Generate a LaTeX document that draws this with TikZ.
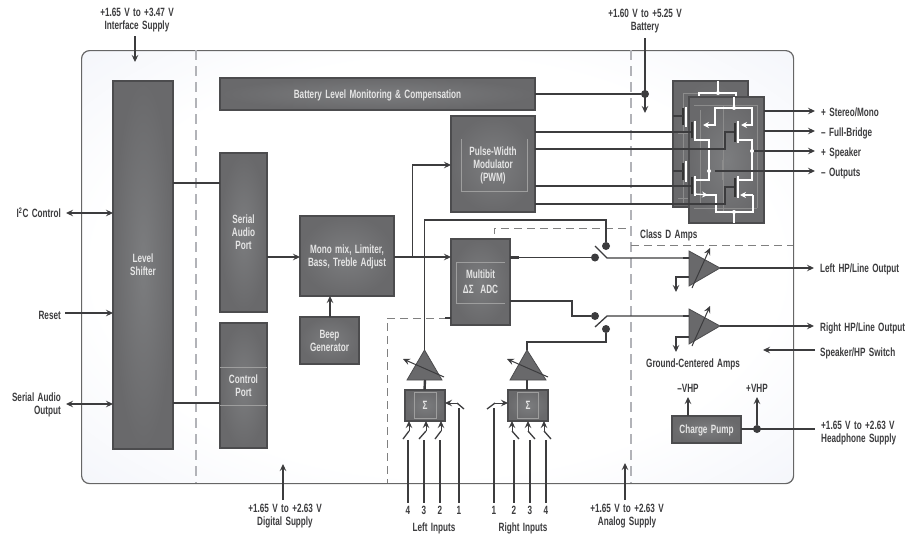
\documentclass[tikz,border=0pt]{standalone}
\usepackage{fontspec}
\setmainfont[FakeStretch=0.68,WordSpace=1.5]{Liberation Sans}
\usepackage{xcolor}
\usepackage{tikz}
\usetikzlibrary{arrows.meta,positioning,shadows}
\definecolor{inkdark}{HTML}{3C3C3E}
\definecolor{boxedge}{HTML}{4C4C4E}
\definecolor{boxmid}{HTML}{7C7D7F}
\definecolor{boxout}{HTML}{69696B}
\definecolor{panelmid}{HTML}{F2F4FA}
\definecolor{panelout}{HTML}{DEE2F0}
\definecolor{zonegray}{HTML}{B2B3B8}
\pgfdeclareradialshading{panelglow}{\pgfpoint{0bp}{0bp}}{color(0bp)=(white); color(24bp)=(white); color(38bp)=(panelmid); color(50bp)=(panelout)}
\begin{document}
\begin{tikzpicture}[
    x=1pt, y=-1pt,
    font=\fontsize{12}{13}\selectfont\bfseries,
    blockbox/.style={shade, inner color=boxmid, outer color=boxout, draw=boxedge, line width=1.2pt, align=center,
        text=white!90!black, text depth=0pt, inner sep=0pt, outer sep=0pt, anchor=north west,
        drop shadow={shadow xshift=1pt, shadow yshift=-1pt, opacity=.18}},
    bridgebox/.style={blockbox, fill=boxout, minimum width=75pt, minimum height=126pt},
    textlabel/.style={text=inkdark, align=center, text depth=0pt, inner sep=0pt},
    arrow/.style={-{Stealth[length=7pt, width=6.5pt, inset=2.5pt]}, line width=1.3pt, draw=inkdark},
    bothways/.style={arrow, {Stealth[length=7pt, width=6.5pt, inset=2.5pt]}-{Stealth[length=7pt, width=6.5pt, inset=2.5pt]}},
    wire/.style={line width=1.3pt, draw=inkdark},
    stub/.style={line width=2.4pt, draw=inkdark},
    joindot/.style={circle, fill=inkdark, minimum size=8pt, inner sep=0pt},
    whitedot/.style={circle, fill=white, minimum size=4pt, inner sep=0pt},
    zoneline/.style={draw=zonegray, line width=1.2pt, dash pattern=on 10pt off 6pt},
    classline/.style={draw=gray, line width=.7pt, dash pattern=on 8pt off 5pt},
    innerline/.style={draw=white!62!black, line width=.4pt},
    faintline/.style={draw=white!55!black, line width=.4pt},
    whitewire/.style={draw=white, line width=1.3pt},
    whitearrow/.style={whitewire, -{Stealth[length=6pt, width=6pt, inset=2pt]}},
    gatebar/.style={draw=black!80, line width=2pt},
    ampshape/.style={fill=boxout, draw=boxedge, line width=.8pt}
]
\useasboundingbox (0,0) rectangle (916,533);

% --- device outline and supply zones ---
\node[draw=black!60, line width=1.2pt, rounded corners=8pt, shade, shading=panelglow, minimum width=712pt, minimum height=433pt, anchor=north west, inner sep=0pt] (panel) at (81,50) {};
\draw[zoneline] (196,50) -- (196,483);
\draw[zoneline] (631,50) -- (631,483);
\draw[classline] (494,234) -- (494,228) -- (628,228);
\draw[classline] (631,245) -- (793,245);
\draw[classline] (494,313) -- (494,318) -- (387,318) -- (387,483);

% --- digital blocks ---
\node[blockbox, minimum width=60pt, minimum height=368pt] (level) at (113,81) {Level\\Shifter};
\node[blockbox, minimum width=315pt, minimum height=32pt] (battery) at (220,78) {Battery Level Monitoring \& Compensation};
\node[blockbox, minimum width=47pt, minimum height=159pt] (serial) at (220,153) {Serial\\Audio\\Port};
\node[blockbox, minimum width=47pt, minimum height=125pt, below=11pt of serial.south west, anchor=north west] (control) {Control\\Port};
\node[blockbox, minimum width=94pt, minimum height=80pt] (mono) at (300,216) {Mono mix, Limiter,\\Bass, Treble Adjust};
\node[blockbox, minimum width=59pt, minimum height=47pt, below=21pt of mono.south west, anchor=north west] (beep) {Beep\\Generator};
\node[blockbox, minimum width=84pt, minimum height=96pt] (pwm) at (451,116) {Pulse-Width\\Modulator\\(PWM)};
\node[blockbox, minimum width=59pt, minimum height=86pt] (adc) at (451,239) {Multibit\\[2pt]ΔΣ\ \ ADC};
\node[blockbox, minimum width=40pt, minimum height=31pt] (sumleft) at (405,390) {Σ};
\node[blockbox, minimum width=40pt, minimum height=31pt] (sumright) at (508,390) {Σ};
\node[blockbox, minimum width=69pt, minimum height=27pt] (pump) at (672,416) {Charge Pump};

% faint rules inside the blocks
\draw[innerline] (control.west |- 0,367) -- (control.east |- 0,367);
\draw[innerline] (control.west |- 0,405) -- (control.east |- 0,405);
\draw[innerline] (461,139) -- (461,191) -- (527,191) -- (527,139);
\draw[innerline] (505,262) -- (456,262) -- (456,303) -- (505,303);
\draw[innerline] (414,392) rectangle (436,418);
\draw[innerline] (517,392) rectangle (538,418);

% --- H-bridge stacks ---
\node[bridgebox] (bridgeback) at (673,81) {};
\draw[faintline] (683,93) -- (683,205) (699,93) -- (699,107) (678,133) -- (689,133) (678,198) -- (689,198) (683,93) -- (736,93);
\draw[faintline] (699,155) circle (2.5pt);
\draw[whitewire] (bridgeback.north -| 718,81) -- (718,93);
\draw[whitewire] (699,97) -- (699,93) -- (736,93) -- (736,97);
\node[whitedot] (backdot) at (718,93) {};
\draw[whitewire] (686,107) -- (686,127) (686,161) -- (686,182);
\draw[gatebar] (683,108) -- (683,125) (683,163) -- (683,180);
\draw[wire] (bridgeback.west |- 0,116) -- (683,116);
\draw[wire] (bridgeback.west |- 0,171) -- (683,171);

\node[bridgebox] (bridgefront) at (689,97) {};
\draw[faintline] (723,105) -- (723,212) (722,160) -- (722,180) (700,110) -- (700,205) (694,208) -- (757,208) (694,105) -- (757,105) (757,105) -- (757,208);
\draw[whitewire] (bridgefront.north -| 734,97) -- (734,108);
\draw[whitewire] (734,223) -- (734,212);
\draw[whitearrow] (734,108) -- (715,108) -- (715,125) -- (703,125);
\draw[whitearrow] (734,108) -- (752,108) -- (752,125) -- (741,125);
\draw[whitewire] (695,121) -- (695,141) (695,176) -- (695,196) (738,121) -- (738,143) (738,176) -- (738,198);
\draw[whitewire] (695,140) -- (709,140) -- (709,180) -- (695,180);
\draw[whitewire] (738,140) -- (752,140) -- (752,180) -- (738,180);
\draw[whitearrow] (695,194) -- (708,195);
\draw[whitewire] (705,195) -- (716,195) -- (716,212) -- (753,212) -- (753,195);
\draw[whitearrow] (753,195) -- (740,195);
\node[whitedot] (topdot) at (734,108) {};
\node[whitedot] (bottomdot) at (734,212) {};
\node[whitedot] (leftdot) at (709,171) {};
\node[whitedot] (rightdot) at (752,151) {};

% --- PWM to bridge ---
\draw[wire] (pwm.east |- 0,132) -- (692,132);
\draw[wire] (pwm.east |- 0,149) -- (725,149) -- (725,132) -- (735,132);
\draw[wire] (pwm.east |- 0,186) -- (692,186);
\draw[wire] (pwm.east |- 0,204) -- (725,204) -- (725,187) -- (735,187);
\draw[gatebar] (692,122) -- (692,138) (692,177) -- (692,194) (735,123) -- (735,142) (735,178) -- (735,197);
\draw[stub] (pwm.east |- 0,132) -- ++(9,0);
\draw[stub] (pwm.east |- 0,186) -- ++(9,0);
\draw[stub] (pwm.east |- 0,204) -- ++(9,0);

% --- bridge outputs ---
\coordinate (ostereo) at (815,111);
\coordinate (obridge) at (815,131);
\coordinate (ospeaker) at (815,151);
\coordinate (ooutputs) at (815,171);
\draw[arrow] (bridgefront.east |- ostereo) -- (ostereo);
\draw[arrow] (bridgefront.east |- obridge) -- (obridge);
\draw[arrow] (rightdot) -- (ospeaker);
\draw[arrow] (715,171) -- (ooutputs);
\node[textlabel, anchor=west] (lstereo) at (821,112) {+ Stereo/Mono};
\node[textlabel, anchor=west] (lbridge) at (821,132) {– Full-Bridge};
\node[textlabel, anchor=west] (lspeaker) at (821,152) {+ Speaker};
\node[textlabel, anchor=west] (loutputs) at (821,172) {– Outputs};

% --- battery supply ---
\node[joindot] (batdot) at (645,94) {};
\node[textlabel] (lbattery) at (645,20) {+1.60 V to +5.25 V\\Battery};
\coordinate (batend) at (645,113);
\draw[arrow] (645,38) -- (batend);
\draw[wire] (battery.east |- batdot) -- (batdot);
\draw[stub] (battery.east |- batdot) -- ++(9,0);

% --- digital connections ---
\draw[wire] (level.east |- 0,183) -- (serial.west |- 0,183);
\draw[stub] (level.east |- 0,183) -- ++(9,0);
\draw[stub] (serial.west |- 0,183) -- ++(-6,0);
\draw[wire] (level.east |- 0,403) -- (control.west |- 0,403);
\draw[stub] (level.east |- 0,403) -- ++(9,0);
\draw[stub] (control.west |- 0,403) -- ++(-6,0);
\draw[arrow] (serial.east |- 0,257) -- (mono.west |- 0,257);
\draw[arrow, line width=1.8pt] (beep.north -| 330,0) -- (mono.south -| 330,0);
\draw[arrow] (mono.east |- 0,257) -- (adc.west |- 0,257);
\draw[arrow] (412.5,257) -- (412.5,165) -- (pwm.west |- 0,165);

% --- analog path ---
\node[joindot] (upperin) at (595,257.5) {};
\node[joindot] (uppermic) at (606,246) {};
\node[joindot] (lowerin) at (595,316) {};
\node[joindot] (lowermic) at (606,329) {};
\draw[wire] (adc.east |- 0,257.5) -- (upperin);
\draw[stub] (adc.east |- 0,257.5) -- ++(9,0);
\draw[wire] (adc.east |- 0,301) -- (572,301) -- (572,316) -- (lowerin);
\draw[stub] (adc.east |- 0,301) -- ++(9,0);
\draw[stub] (445,318) -- (adc.west |- 0,318);

% amplifier triangles
\coordinate (pgaleft) at (424.5,350);
\coordinate (pgaright) at (527,350);
\draw[ampshape] (pgaleft) -- (407,380) -- (442,380) -- cycle;
\draw[ampshape] (pgaright) -- (510,380) -- (546,380) -- cycle;
\draw[arrow, line width=1pt] (444,377) -- (403,359);
\draw[arrow, line width=1pt] (548,377) -- (507,359);
\draw[stub] (sumleft.north -| pgaleft) -- (425,380);
\draw[stub] (sumright.north -| pgaright) -- (527,380);
\draw[wire] (pgaleft) -- (424.5,220) -- (606,220) -- (uppermic);
\draw[wire] (pgaright) -- (527,342) -- (606,342) -- (lowermic);

% headphone amps
\coordinate (hpleft) at (720,268);
\coordinate (hpright) at (720,326);
\draw[ampshape] (hpleft) -- (689,251) -- (689,286) -- cycle;
\draw[ampshape] (hpright) -- (689,309) -- (689,344) -- cycle;
\draw[arrow, line width=1pt] (692,288) -- (710,248);
\draw[arrow, line width=1pt] (692,346) -- (710,306);
\draw[wire] (595,246) -- (607,258) -- (689,258);
\draw[wire] (595,327) -- (607,316) -- (689,316);
\draw[stub] (683,258) -- (689,258);
\draw[stub] (683,316) -- (689,316);
\draw[arrow] (689,277) -- (676,277) -- (676,292);
\draw[arrow] (689,337) -- (676,337) -- (676,352);
\draw[arrow] (hpleft) -- (814,268);
\draw[arrow] (hpright) -- (814,326);
\node[textlabel, anchor=west] (lleftout) at (820,268) {Left HP/Line Output};
\node[textlabel, anchor=west] (lrightout) at (820,327) {Right HP/Line Output};
\node[textlabel, anchor=west] (lswitch) at (820,352) {Speaker/HP Switch};
\draw[arrow] (lswitch.west) ++(-5,-2) -- (763,350);
\node[textlabel, anchor=west] (lclassd) at (640,234) {Class D Amps};
\node[textlabel, anchor=west] (lground) at (646,363) {Ground-Centered Amps};

% --- charge pump ---
\node[joindot] (pumpdot) at (757,429) {};
\node[textlabel] (lminus) at (688,388) {–VHP};
\node[textlabel] (lplus) at (757,388) {+VHP};
\draw[arrow] (pump.north -| lminus) -- (688,397);
\draw[arrow] (pumpdot) -- (757,397);
\draw[wire] (pump.east |- pumpdot) -- (815,429);
\node[textlabel, anchor=west, align=left] (lphones) at (821,432) {+1.65 V to +2.63 V\\Headphone Supply};

% --- left side pins ---
\node[textlabel] (lsupply) at (137,19) {+1.65 V to +3.47 V\\Interface Supply};
\draw[arrow] (135,36) -- (135,62);
\node[textlabel, anchor=east] (li2c) at (61,213) {I\textsuperscript{2}C Control};
\node[textlabel, anchor=east] (lreset) at (61,315) {Reset};
\node[textlabel, anchor=east, align=right] (lserout) at (61,404) {Serial Audio\\Output};
\draw[bothways] (li2c.east |- 0,213) ++(5,0) -- (level.west |- 0,213);
\draw[arrow] (lreset.east |- 0,313) ++(4,0) -- (level.west |- 0,313);
\draw[bothways] (lserout.east |- 0,404) ++(5,0) -- (level.west |- 0,404);

% --- bottom supplies ---
\node[textlabel] (ldigital) at (285,515) {+1.65 V to +2.63 V\\Digital Supply};
\node[textlabel] (lanalog) at (627,515) {+1.65 V to +2.63 V\\Analog Supply};
\draw[arrow] (283,500) -- (283,464);
\draw[arrow] (625,500) -- (625,463);

% --- input selectors ---
\foreach \pinx/\tipx/\pinlabel in {408/409/4, 424/426/3, 440/441/2} {
    \node[textlabel] (lpin\pinlabel) at (\pinx,510) {\pinlabel};
    \draw[wire] (lpin\pinlabel.north) ++(0,-3) -- (\pinx,440);
    \draw[wire] (\pinx-5,439) -- (\tipx,431);
    \draw[arrow, line width=1pt] (\tipx,431) -- (sumleft.south -| \tipx,0);
}
\foreach \pinx/\tipx/\pinlabel in {514/512/2, 530/528/3, 546/544/4} {
    \node[textlabel] (rpin\pinlabel) at (\pinx,510) {\pinlabel};
    \draw[wire] (rpin\pinlabel.north) ++(0,-3) -- (\pinx,440);
    \draw[wire] (\pinx+5,439) -- (\tipx,431);
    \draw[arrow, line width=1pt] (\tipx,431) -- (sumright.south -| \tipx,0);
}
\node[textlabel] (lpin1) at (459,510) {1};
\node[textlabel] (rpin1) at (494,510) {1};
\draw[wire] (lpin1.north) ++(0,-3) -- (459,408);
\draw[wire] (rpin1.north) ++(0,-3) -- (494,408);
\draw[wire] (464,409) -- (457,403);
\draw[wire] (487,409) -- (495,403);
\draw[arrow, line width=1pt] (457,403) -- (sumleft.east |- 0,403);
\draw[arrow, line width=1pt] (495,403) -- (sumright.west |- 0,403);
\node[textlabel] (lleftin) at (434,527) {Left Inputs};
\node[textlabel] (lrightin) at (523,527) {Right Inputs};

\end{tikzpicture}
\end{document}
